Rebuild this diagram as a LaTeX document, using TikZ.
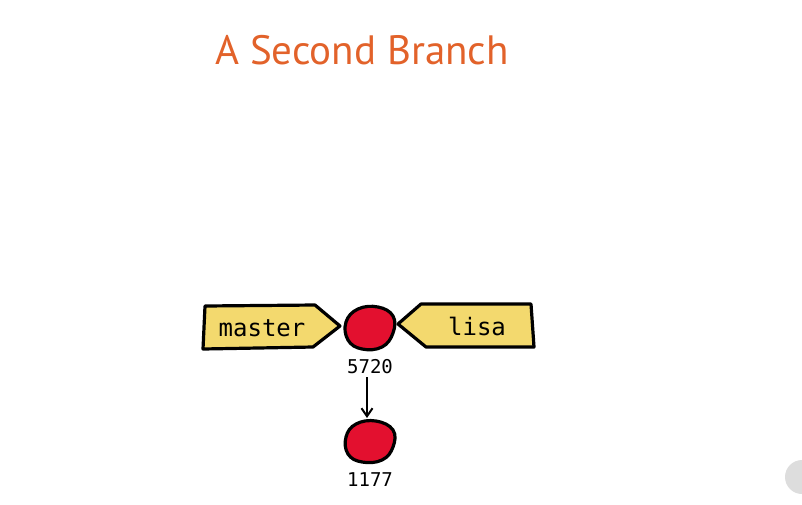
\documentclass[tikz,border=0pt]{standalone}
\usepackage{fontspec}
\setmainfont{PT Sans}
\newfontfamily\codefont{DejaVu Sans Mono}
\usetikzlibrary{arrows.meta}
\definecolor{titleorange}{HTML}{E2622A}
\definecolor{tagyellow}{HTML}{F3D96E}
\definecolor{commitred}{HTML}{E3102F}
\definecolor{btngray}{HTML}{DDDDDD}
\tikzset{
  tagshape/.style={fill=tagyellow, draw=black, line width=3.2pt, line join=round},
  blob/.style={fill=commitred, draw=black, line width=3.2pt},
  taglabel/.style={font=\codefont\fontsize{24}{24}\selectfont, inner sep=0pt},
  idlabel/.style={font=\codefont\fontsize{19}{19}\selectfont, inner sep=0pt},
  link/.style={draw=black, line width=2pt, -{Straight Barb[length=8pt,width=11pt,line width=2pt]}}
}
\begin{document}
\begin{tikzpicture}[x=1pt,y=-1pt]
\useasboundingbox (0,0) rectangle (802,504);
% title
\node[text=titleorange, font=\fontsize{41}{41}\selectfont, inner sep=0pt] (title) at (362,50) {A Second Branch};
% master tag
\draw[tagshape] (205,306) -- (315,305) -- (340,326) -- (313,347) -- (203,349) -- cycle;
\node[taglabel] (master) at (262,328) {master};
% lisa tag
\draw[tagshape] (398,324) -- (421,304) -- (531,304) -- (534,347) -- (426,347) -- cycle;
\node[taglabel] (lisa) at (477,326) {lisa};
% commit 5720
\coordinate (c1) at (370,327);
\draw[blob] plot[smooth cycle, tension=0.7] coordinates {(346,322) (358,309) (378,307) (393,316) (393,333) (382,347) (362,349) (348,340)};
\node[idlabel] (l1) at (370,367) {5720};
% commit 1177
\coordinate (c2) at (370,441);
\draw[blob] plot[smooth cycle, tension=0.7] coordinates {(346,437) (356,424) (376,421) (393,430) (393,447) (382,460) (362,462) (348,454)};
\node[idlabel] (l2) at (370,480) {1177};
\coordinate (c2top) at (367,418);
\coordinate (l1bot) at (367,377);
\draw[link] (l1bot) -- (c2top);
% player button (partly cut off)
\fill[btngray] (802,477) circle (17);
\end{tikzpicture}
\end{document}
